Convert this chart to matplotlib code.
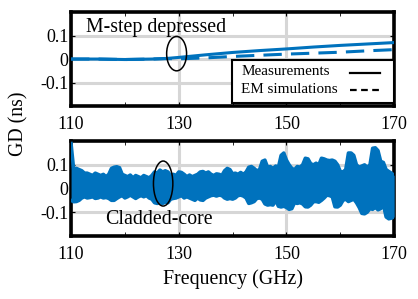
import matplotlib
matplotlib.use("Agg")
import matplotlib.pyplot as plt
import numpy as np
from matplotlib.patches import Ellipse, Rectangle

plt.rcParams['font.family'] = ['Liberation Serif', 'DejaVu Serif']
plt.rcParams['axes.unicode_minus'] = False

blue = "#0072bd"

# Top panel: M-step depressed
f_top = [110, 115, 120, 125, 128, 130, 135, 140, 145, 150, 155, 160, 165, 170]
gd_meas = [0.0, 0.0, -0.002, 0.0, 0.003, 0.007, 0.018, 0.028, 0.036, 0.043, 0.051, 0.058, 0.064, 0.070]
gd_sim = [0.0, 0.0, -0.002, 0.0, 0.002, 0.001, 0.005, 0.011, 0.016, 0.021, 0.025, 0.029, 0.035, 0.040]

# Bottom panel: cladded-core, measured noisy band (upper / lower envelope, 0.5 GHz grid)
f_bot = np.arange(110, 170.25, 0.5)
gd_up = [0.19, 0.08, 0.085, 0.08, 0.075, 0.065, 0.065, 0.06, 0.055, 0.065,
         0.06, 0.055, 0.06, 0.05, 0.06, 0.085, 0.09, 0.092, 0.088, 0.06,
         0.055, 0.05, 0.057, 0.045, 0.055, 0.05, 0.045, 0.055, 0.05, 0.045,
         0.055, 0.07, 0.065, 0.078, 0.07, 0.075, 0.07, 0.055, 0.06, 0.055,
         0.07, 0.068, 0.06, 0.05, 0.057, 0.05, 0.055, 0.06, 0.07, 0.072,
         0.065, 0.07, 0.06, 0.055, 0.062, 0.06, 0.055, 0.075, 0.085, 0.08,
         0.062, 0.065, 0.06, 0.068, 0.06, 0.07, 0.09, 0.093, 0.085, 0.075,
         0.08, 0.115, 0.12, 0.09, 0.093, 0.085, 0.095, 0.09, 0.14, 0.15,
         0.12, 0.1, 0.085, 0.08, 0.093, 0.09, 0.1, 0.128, 0.125, 0.105,
         0.1, 0.107, 0.1, 0.128, 0.125, 0.12, 0.118, 0.12, 0.115, 0.1,
         0.072, 0.07, 0.08, 0.15, 0.15, 0.14, 0.1, 0.09, 0.095, 0.1,
         0.09, 0.1, 0.17, 0.172, 0.16, 0.115, 0.11, 0.08, 0.072, 0.065,
         0.055]
gd_lo = [-0.05, -0.056, -0.055, -0.05, -0.04, -0.035, -0.04, -0.038, -0.035, -0.042,
         -0.04, -0.035, -0.04, -0.038, -0.042, -0.05, -0.05, -0.042, -0.035, -0.03,
         -0.04, -0.035, -0.028, -0.035, -0.042, -0.035, -0.03, -0.035, -0.03, -0.04,
         -0.045, -0.06, -0.063, -0.06, -0.063, -0.058, -0.06, -0.045, -0.042, -0.04,
         -0.035, -0.03, -0.04, -0.035, -0.04, -0.045, -0.05, -0.04, -0.048, -0.05,
         -0.04, -0.035, -0.03, -0.028, -0.032, -0.028, -0.03, -0.04, -0.045, -0.042,
         -0.045, -0.04, -0.03, -0.028, -0.032, -0.04, -0.063, -0.06, -0.055, -0.042,
         -0.04, -0.045, -0.065, -0.07, -0.068, -0.07, -0.05, -0.075, -0.078, -0.075,
         -0.08, -0.088, -0.085, -0.06, -0.063, -0.06, -0.065, -0.077, -0.078, -0.07,
         -0.056, -0.055, -0.058, -0.05, -0.04, -0.028, -0.03, -0.035, -0.077, -0.078,
         -0.07, -0.05, -0.045, -0.055, -0.05, -0.045, -0.06, -0.08, -0.105, -0.107,
         -0.1, -0.085, -0.088, -0.08, -0.09, -0.085, -0.07, -0.12, -0.128, -0.125,
         -0.12]

xticks = [110, 130, 150, 170]
yticks = [-0.1, 0, 0.1]
yticklabels = ["-0.1", "0", "0.1"]

fig = plt.figure(figsize=(4.18, 2.99), dpi=100)
ax1 = fig.add_axes([0.170, 0.645, 0.773, 0.315])
ax2 = fig.add_axes([0.170, 0.211, 0.773, 0.317])


def style(ax):
    ax.set_xlim(110, 170)
    ax.set_ylim(-0.2, 0.2)
    ax.set_xticks(xticks)
    ax.set_xticks([120, 140, 160], minor=True)
    ax.set_yticks(yticks)
    ax.set_yticklabels(yticklabels)
    ax.grid(True, color="#d6d6d6", linewidth=2.2, zorder=0)
    ax.set_axisbelow(True)
    ax.tick_params(axis="both", which="both", direction="in", length=3,
                   labelsize=13, top=True, right=True)
    ax.tick_params(axis="x", pad=7)
    ax.tick_params(axis="y", pad=2)
    for sp in ax.spines.values():
        sp.set_linewidth(2.6)


style(ax1)
style(ax2)

ax1.plot(f_top, gd_meas, color=blue, linewidth=2.2, zorder=3)
ax1.plot(f_top, gd_sim, color=blue, linewidth=2.2, linestyle=(0, (6, 3)), zorder=3)
ax1.add_patch(Ellipse((129.6, 0.023), 3.7, 0.146, fill=False, edgecolor="black", linewidth=1.1, zorder=4))
ax1.text(112.8, 0.132, "M-step depressed", fontsize=14.3, va="center", ha="left", zorder=5)

# legend box drawn by hand (labels left-aligned, black keys on the right)
tr = ax1.transAxes
ax1.add_patch(Rectangle((0.498, 0.03), 0.502, 0.46, transform=tr, facecolor="white",
                        edgecolor="black", linewidth=1.5, zorder=6, clip_on=False))
ax1.text(0.526, 0.365, "Measurements", transform=tr, fontsize=10.9, va="center", ha="left", zorder=7)
ax1.text(0.526, 0.178, "EM simulations", transform=tr, fontsize=10.9, va="center", ha="left", zorder=7)
ax1.plot([0.864, 0.957], [0.35, 0.35], transform=tr, color="black", linewidth=1.6, zorder=7)
ax1.plot([0.864, 0.957], [0.17, 0.17], transform=tr, color="black", linewidth=1.6,
         linestyle=(0, (3, 2)), zorder=7)

ax2.fill_between(f_bot, gd_lo, gd_up, color=blue, linewidth=0, zorder=3)
ax2.plot(f_bot, gd_up, color=blue, linewidth=2.5, solid_joinstyle="round", zorder=3)
ax2.plot(f_bot, gd_lo, color=blue, linewidth=2.5, solid_joinstyle="round", zorder=3)
ax2.add_patch(Ellipse((127.1, 0.021), 3.6, 0.19, fill=False, edgecolor="black", linewidth=1.1, zorder=4))
ax2.text(116.4, -0.13, "Cladded-core", fontsize=14.3, va="center", ha="left", zorder=5)

ax2.set_xlabel("Frequency (GHz)", fontsize=14.3, labelpad=5)
fig.text(0.045, 0.585, "GD (ns)", rotation=90, fontsize=14.3, ha="center", va="center")

fig.savefig("out.png", dpi=100)
